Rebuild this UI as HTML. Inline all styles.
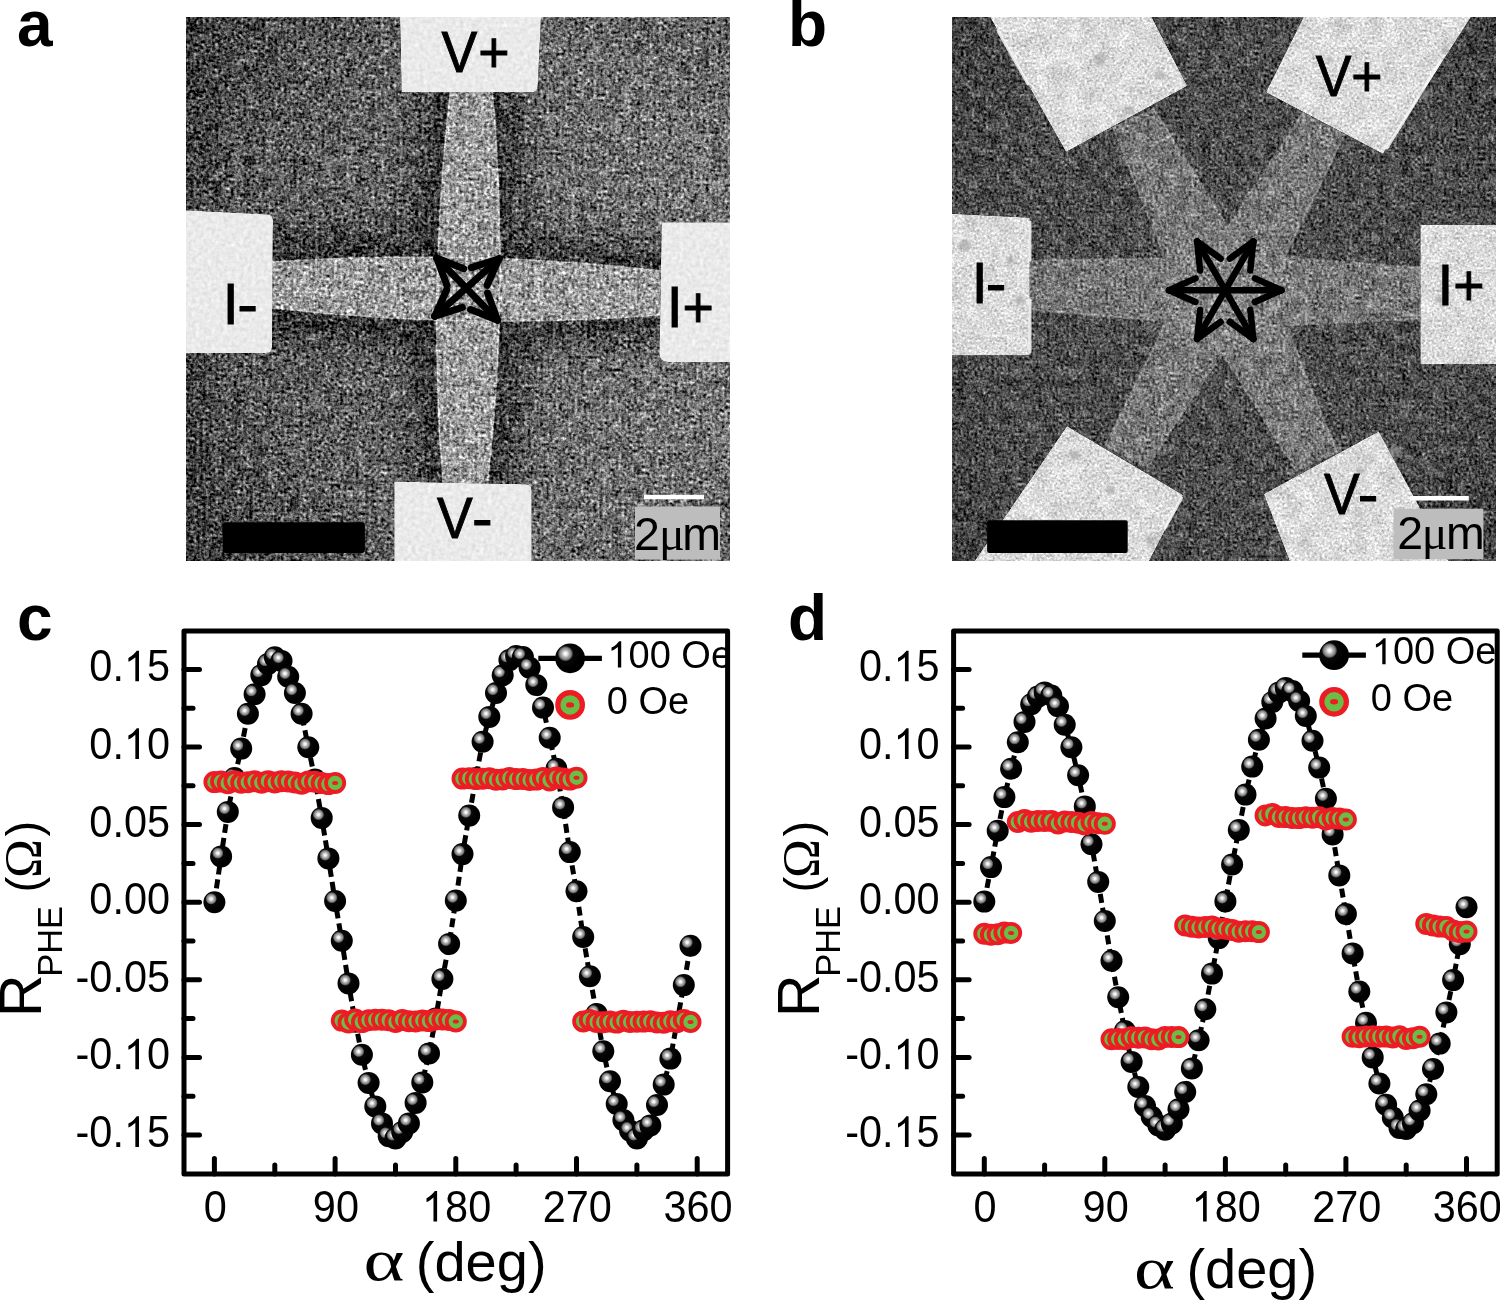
<!DOCTYPE html>
<html><head><meta charset="utf-8"><title>Figure</title><style>
html,body{margin:0;padding:0;background:#fff;}
body{width:1500px;height:1300px;overflow:hidden;position:relative;}
svg{position:absolute;left:0;top:0;will-change:transform;}
text{font-family:"Liberation Sans",sans-serif;fill:#000;}
.tl{font-size:42.5px;}
.lg{font-size:38px;}
.pl{font-size:64px;font-weight:bold;}
.sl{font-family:"Liberation Sans",sans-serif;stroke:#000;stroke-width:0.9px;}
.um{font-size:46.5px;}
.umu{font-family:"Liberation Serif",serif;font-size:48px;}
.yt{font-size:59px;}
.ys{font-size:34.5px;}
.yp{font-size:47.2px;}
.yo{font-family:"Liberation Serif",serif;font-size:52.4px;}
.xa{font-family:"Liberation Serif",serif;font-size:60px;}
.xt{font-size:56px;}
</style></head><body>
<svg width="1500" height="1300" viewBox="0 0 1500 1300">

<defs>
<radialGradient id="sph" cx="0.35" cy="0.35" r="0.5" fx="0.35" fy="0.35">
 <stop offset="0" stop-color="#ffffff"/>
 <stop offset="0.1" stop-color="#f2f2f2"/>
 <stop offset="0.18" stop-color="#cfcfcf"/>
 <stop offset="0.28" stop-color="#a4a4a4"/>
 <stop offset="0.38" stop-color="#858585"/>
 <stop offset="0.45" stop-color="#555"/>
 <stop offset="0.52" stop-color="#080808"/>
 <stop offset="1" stop-color="#000"/>
</radialGradient>
<radialGradient id="sphL" cx="0.345" cy="0.345" r="0.5" fx="0.345" fy="0.345">
 <stop offset="0" stop-color="#ffffff"/>
 <stop offset="0.1" stop-color="#f2f2f2"/>
 <stop offset="0.18" stop-color="#cfcfcf"/>
 <stop offset="0.28" stop-color="#a4a4a4"/>
 <stop offset="0.38" stop-color="#858585"/>
 <stop offset="0.45" stop-color="#555"/>
 <stop offset="0.52" stop-color="#080808"/>
 <stop offset="1" stop-color="#000"/>
</radialGradient>
<clipPath id="clipA"><rect x="186" y="17" width="544" height="544"/></clipPath>
<clipPath id="clipB"><rect x="952" y="17" width="544" height="544"/></clipPath>
<clipPath id="clipC" clipPathUnits="userSpaceOnUse"><rect x="0" y="0" width="726" height="1300"/></clipPath>
<clipPath id="clipD" clipPathUnits="userSpaceOnUse"><rect x="0" y="0" width="1495" height="1300"/></clipPath>
<radialGradient id="vigA" cx="0.55" cy="0.5" r="0.75">
 <stop offset="0" stop-color="#fff" stop-opacity="0.06"/>
 <stop offset="0.6" stop-color="#000" stop-opacity="0.0"/>
 <stop offset="1" stop-color="#000" stop-opacity="0.25"/>
</radialGradient>
<radialGradient id="vigB" cx="0.5" cy="0.5" r="0.75">
 <stop offset="0" stop-color="#fff" stop-opacity="0.04"/>
 <stop offset="0.6" stop-color="#000" stop-opacity="0.0"/>
 <stop offset="1" stop-color="#000" stop-opacity="0.2"/>
</radialGradient>
<filter id="grain" x="0" y="0" width="1" height="1" color-interpolation-filters="sRGB">
 <feTurbulence type="fractalNoise" baseFrequency="0.09" numOctaves="2" seed="11" result="m"/>
 <feColorMatrix in="m" type="matrix" values="0.33 0.33 0.33 0 0  0.33 0.33 0.33 0 0  0.33 0.33 0.33 0 0  0 0 0 0 1" result="mg"/>
 <feComposite in="SourceGraphic" in2="mg" operator="arithmetic" k1="0" k2="1" k3="0.7" k4="-0.35" result="s1"/>
 <feTurbulence type="fractalNoise" baseFrequency="0.32" numOctaves="2" seed="3" result="n"/>
 <feColorMatrix in="n" type="matrix" values="0.33 0.33 0.33 0 0  0.33 0.33 0.33 0 0  0.33 0.33 0.33 0 0  0 0 0 0 1" result="g"/>
 <feComposite in="s1" in2="g" operator="arithmetic" k1="0" k2="1" k3="2.1" k4="-1.05"/>
</filter>
<filter id="grainB" x="0" y="0" width="1" height="1" color-interpolation-filters="sRGB">
 <feTurbulence type="fractalNoise" baseFrequency="0.09" numOctaves="2" seed="17" result="m"/>
 <feColorMatrix in="m" type="matrix" values="0.33 0.33 0.33 0 0  0.33 0.33 0.33 0 0  0.33 0.33 0.33 0 0  0 0 0 0 1" result="mg"/>
 <feComposite in="SourceGraphic" in2="mg" operator="arithmetic" k1="0" k2="1" k3="0.6" k4="-0.3" result="s1"/>
 <feTurbulence type="fractalNoise" baseFrequency="0.36" numOctaves="2" seed="23" result="n"/>
 <feColorMatrix in="n" type="matrix" values="0.33 0.33 0.33 0 0  0.33 0.33 0.33 0 0  0.33 0.33 0.33 0 0  0 0 0 0 1" result="g"/>
 <feComposite in="s1" in2="g" operator="arithmetic" k1="0" k2="1" k3="1.45" k4="-0.725"/>
</filter>
<filter id="grainP" x="0" y="0" width="1" height="1" color-interpolation-filters="sRGB">
 <feTurbulence type="fractalNoise" baseFrequency="0.25" numOctaves="2" seed="5" result="n"/>
 <feColorMatrix in="n" type="matrix" values="0.33 0.33 0.33 0 0  0.33 0.33 0.33 0 0  0.33 0.33 0.33 0 0  0 0 0 0 1" result="g"/>
 <feComposite in="SourceGraphic" in2="g" operator="arithmetic" k1="0" k2="1" k3="0.28" k4="-0.14" result="c"/>
 <feComposite in="c" in2="SourceAlpha" operator="in"/>
</filter>
<filter id="grainP2" x="0" y="0" width="1" height="1" color-interpolation-filters="sRGB">
 <feTurbulence type="fractalNoise" baseFrequency="0.06" numOctaves="4" seed="9" result="n"/>
 <feColorMatrix in="n" type="matrix" values="0.33 0.33 0.33 0 0  0.33 0.33 0.33 0 0  0.33 0.33 0.33 0 0  0 0 0 0 1" result="g"/>
 <feComposite in="SourceGraphic" in2="g" operator="arithmetic" k1="0" k2="1" k3="0.3" k4="-0.15" result="c0"/>
 <feTurbulence type="fractalNoise" baseFrequency="0.4" numOctaves="2" seed="4" result="n2"/>
 <feColorMatrix in="n2" type="matrix" values="0.33 0.33 0.33 0 0  0.33 0.33 0.33 0 0  0.33 0.33 0.33 0 0  0 0 0 0 1" result="g2"/>
 <feComposite in="c0" in2="g2" operator="arithmetic" k1="0" k2="1" k3="0.9" k4="-0.45" result="c"/>
 <feComposite in="c" in2="SourceAlpha" operator="in"/>
</filter>
<filter id="blur6" x="-0.5" y="-0.5" width="2" height="2"><feGaussianBlur stdDeviation="6"/></filter>
<filter id="blur2" x="-0.5" y="-0.5" width="2" height="2"><feGaussianBlur stdDeviation="1.5"/></filter>
<filter id="blur18" x="-0.5" y="-0.5" width="2" height="2"><feGaussianBlur stdDeviation="16"/></filter>
<linearGradient id="gradA" x1="0" y1="0" x2="1" y2="0">
 <stop offset="0" stop-color="#4a4a4a"/>
 <stop offset="0.08" stop-color="#5b5b5b"/>
 <stop offset="0.45" stop-color="#696969"/>
 <stop offset="1" stop-color="#7a7a7a"/>
</linearGradient>
</defs>

<g clip-path="url(#clipA)"><g filter="url(#grain)">
<rect x="186" y="17" width="544" height="544" fill="url(#gradA)"/>
<rect x="186" y="17" width="544" height="544" fill="url(#vigA)"/>
<g filter="url(#blur18)" opacity="0.5" fill="none" stroke="#000" stroke-width="46">
<path d="M270,262 Q469.5,248.5 663,271 L663,315 Q466.5,330.1 270,308 Z"/>
<path d="M450.5,90 L492.5,90 Q510,291 487.5,484 L443,484 Q427.2,291 450.5,90 Z"/>
</g>
<path d="M270,262 Q469.5,248.5 663,271 L663,315 Q466.5,330.1 270,308 Z" fill="#9e9e9e"/>
<path d="M450.5,90 L492.5,90 Q510,291 487.5,484 L443,484 Q427.2,291 450.5,90 Z" fill="#9e9e9e"/>
<g fill="none" stroke="#e0e0e0" stroke-width="1.6" opacity="0.55">
<path d="M270,262 Q469.5,248.5 663,271"/><path d="M663,315 Q466.5,330.1 270,308"/>
<path d="M492.5,90 Q510,291 487.5,484"/><path d="M443,484 Q427.2,291 450.5,90"/>
</g>
</g><g filter="url(#grainP)" fill="#eaeaea">
<path d="M399.8,10 L541.4,10 L537.8,86 Q537.5,92.3 531,92.3 L401.6,92.3 Z"/>
<path d="M394.2,481.5 L525.7,484.2 Q531.7,484.4 531.7,490.4 L531.7,570 L394.2,570 Z"/>
<path d="M180,209.9 L267,214.3 Q273,214.6 273,220.6 L272,347 Q272,353 266,353 L180,353 Z"/>
<path d="M661.6,222.2 L740,222.2 L740,362 L668,362 Q659.6,362 659.6,354 Z"/>
</g></g>
<g clip-path="url(#clipB)"><g filter="url(#grainB)">
<rect x="952" y="17" width="544" height="544" fill="#505050"/>
<rect x="952" y="17" width="544" height="544" fill="url(#vigB)"/>
<polygon points="1112.6,127.0 1153.6,108.6 1228.0,227.0 1303.2,111.9 1345.1,134.1 1285.0,256.0 1290.0,258.0 1424.0,267.7 1424.0,318.3 1286.8,325.6 1285.4,323.1 1337.4,453.0 1296.4,471.4 1222.0,353.0 1146.8,468.1 1104.9,445.9 1165.0,324.0 1159.0,320.7 1026.0,309.0 1026.0,261.0 1158.7,258.3 1164.6,256.9" fill="#7a7a7a"/>
<polygon points="1295.0,290.0 1260.0,343.7 1190.0,343.7 1155.0,290.0 1190.0,236.3 1260.0,236.3" fill="#888888" filter="url(#blur6)"/>
<g stroke="#a0a0a0" stroke-width="2" opacity="0.5" fill="none">
<line x1="1112.6" y1="127.0" x2="1164.6" y2="256.9"/>
<line x1="1153.6" y1="108.6" x2="1228.0" y2="227.0"/>
<line x1="1228.0" y1="227.0" x2="1303.2" y2="111.9"/>
<line x1="1345.1" y1="134.1" x2="1285.0" y2="256.0"/>
<line x1="1337.4" y1="453.0" x2="1285.4" y2="323.1"/>
<line x1="1296.4" y1="471.4" x2="1222.0" y2="353.0"/>
<line x1="1222.0" y1="353.0" x2="1146.8" y2="468.1"/>
<line x1="1104.9" y1="445.9" x2="1165.0" y2="324.0"/>
<line x1="1026.0" y1="261.0" x2="1158.7" y2="258.3"/>
<line x1="1290.0" y1="258.0" x2="1424.0" y2="267.7"/>
<line x1="1026.0" y1="309.0" x2="1159.0" y2="320.7"/>
<line x1="1286.8" y1="325.6" x2="1424.0" y2="318.3"/>
</g>
</g><g filter="url(#grainP2)" fill="#dcdcdc">
<polygon points="952.0,213.7 1029.8,217.6 1029.8,355.5 952.0,355.5"/>
<polygon points="1420.3,224.8 1500.0,224.8 1500.0,364.0 1420.3,364.0"/>
<polygon points="1066.0,152.0 1187.3,86.0 1143.0,0.0 980.4,0.0"/>
<polygon points="1265.8,92.3 1383.0,154.0 1482.0,0.0 1312.0,0.0"/>
<polygon points="1067.0,426.0 1183.2,495.0 1142.0,575.0 965.0,575.0"/>
<polygon points="1378.8,431.3 1263.7,494.0 1295.0,575.0 1456.0,575.0"/>
</g>
<g stroke="#f8f8f8" stroke-width="3" stroke-linecap="round" opacity="0.85" fill="none"><line x1="998" y1="31" x2="1028" y2="84"/><line x1="1440" y1="62" x2="1387" y2="148"/><line x1="1181.5" y1="498" x2="1165" y2="528"/><line x1="1030" y1="222" x2="1030" y2="260"/><line x1="1030" y1="300" x2="1030" y2="352"/></g>
<g fill="#9a9a9a" opacity="0.55" filter="url(#blur2)"><circle cx="1100" cy="60" r="6"/><circle cx="1160" cy="75" r="5"/><circle cx="1130" cy="110" r="4"/><circle cx="1425" cy="95" r="5"/><circle cx="1445" cy="50" r="4"/><circle cx="1330" cy="60" r="3"/><circle cx="965" cy="245" r="6"/><circle cx="1020" cy="300" r="5"/><circle cx="1010" cy="260" r="4"/><circle cx="1075" cy="455" r="5"/><circle cx="1110" cy="490" r="5"/><circle cx="1150" cy="540" r="4"/><circle cx="1395" cy="452" r="6"/><circle cx="1360" cy="470" r="4"/><circle cx="1440" cy="300" r="4"/></g>
</g>
<g stroke="#000" stroke-width="7" stroke-linecap="round" fill="none">
<line x1="436.8" y1="258.0" x2="497.6" y2="320.2"/><line x1="436.8" y1="258.0" x2="463.8" y2="268.7"/><line x1="436.8" y1="258.0" x2="446.9" y2="285.2"/><line x1="497.6" y1="320.2" x2="470.6" y2="309.5"/><line x1="497.6" y1="320.2" x2="487.5" y2="293.0"/>
<line x1="499.0" y1="258.8" x2="434.8" y2="316.2"/><line x1="499.0" y1="258.8" x2="487.1" y2="285.3"/><line x1="499.0" y1="258.8" x2="471.4" y2="267.7"/><line x1="434.8" y1="316.2" x2="446.7" y2="289.7"/><line x1="434.8" y1="316.2" x2="462.4" y2="307.3"/>
</g>
<g stroke="#000" stroke-width="6.5" stroke-linecap="round" fill="none">
<line x1="1169.0" y1="290.2" x2="1281.4" y2="290.2"/><line x1="1169.0" y1="290.2" x2="1195.5" y2="278.4"/><line x1="1169.0" y1="290.2" x2="1195.5" y2="302.0"/><line x1="1281.4" y1="290.2" x2="1254.9" y2="302.0"/><line x1="1281.4" y1="290.2" x2="1254.9" y2="278.4"/>
<line x1="1197.1" y1="241.5" x2="1253.3" y2="338.9"/><line x1="1197.1" y1="241.5" x2="1220.6" y2="258.6"/><line x1="1197.1" y1="241.5" x2="1200.1" y2="270.4"/><line x1="1253.3" y1="338.9" x2="1229.8" y2="321.8"/><line x1="1253.3" y1="338.9" x2="1250.3" y2="310.0"/>
<line x1="1253.3" y1="241.5" x2="1197.1" y2="338.9"/><line x1="1253.3" y1="241.5" x2="1250.3" y2="270.4"/><line x1="1253.3" y1="241.5" x2="1229.8" y2="258.6"/><line x1="1197.1" y1="338.9" x2="1200.1" y2="310.0"/><line x1="1197.1" y1="338.9" x2="1220.6" y2="321.8"/>
</g>
<rect x="222.6" y="522.3" width="142.3" height="30.7" rx="3" fill="#000"/>
<rect x="987.1" y="520.2" width="140.6" height="32.8" rx="2" fill="#000"/>
<rect x="644" y="494.8" width="60" height="4.5" fill="#fff"/>
<rect x="635" y="506.5" width="85" height="53" fill="#bdbdbd"/>
<rect x="1410.2" y="496" width="58.6" height="4.5" fill="#fff"/>
<rect x="1393.5" y="508.7" width="89.9" height="50.5" fill="#bdbdbd"/>
<text transform="translate(441.5,72.0) scale(0.94,1)" class="sl" font-size="57">V</text>
<text transform="translate(478.2,72.0) scale(0.94,1)" class="sl" font-size="57">+</text>
<text transform="translate(437.0,538.3) scale(0.94,1)" class="sl" font-size="57">V</text>
<text transform="translate(471.9,538.3) scale(1.09,1)" class="sl" font-size="57">-</text>
<text transform="translate(222.7,323.7) scale(1.0,1)" class="sl" font-size="57">I</text>
<text transform="translate(237.2,323.7) scale(1.09,1)" class="sl" font-size="57">-</text>
<text transform="translate(666.7,327.4) scale(1.0,1)" class="sl" font-size="57">I</text>
<text transform="translate(682.5,327.4) scale(0.94,1)" class="sl" font-size="57">+</text>
<text transform="translate(1315.7,95.5) scale(0.94,1)" class="sl" font-size="57">V</text>
<text transform="translate(1351.3,95.5) scale(0.94,1)" class="sl" font-size="57">+</text>
<text transform="translate(1324.1,513.9) scale(0.94,1)" class="sl" font-size="57">V</text>
<text transform="translate(1357.7,513.9) scale(1.09,1)" class="sl" font-size="57">-</text>
<text transform="translate(971.8,302.6) scale(1.0,1)" class="sl" font-size="57">I</text>
<text transform="translate(985.8,302.6) scale(1.09,1)" class="sl" font-size="57">-</text>
<text transform="translate(1437.6,305.2) scale(1.0,1)" class="sl" font-size="57">I</text>
<text transform="translate(1453.3,305.2) scale(0.94,1)" class="sl" font-size="57">+</text>
<text x="634" y="549.7" class="um">2</text>
<text x="659" y="549.7" class="umu">&#956;</text>
<text x="682.3" y="549.7" class="um">m</text>
<text x="1397.3" y="548.6" class="um">2</text>
<text x="1421.7" y="548.6" class="umu">&#956;</text>
<text x="1446" y="548.6" class="um">m</text>
<text x="17" y="46.3" class="pl">a</text>
<text x="788" y="46.3" class="pl">b</text>
<text x="17" y="640" class="pl">c</text>
<text x="788" y="640" class="pl">d</text>
<polyline points="214.4,902.2 221.1,856.4 227.8,811.9 234.5,778.0 241.2,748.6 247.9,713.8 254.6,694.2 261.3,675.1 268.0,664.0 274.8,657.3 281.5,660.9 288.2,676.8 294.9,693.0 301.6,713.8 308.3,747.3 315.0,779.6 321.7,817.9 328.4,858.4 335.1,901.0 341.8,940.7 348.5,983.4 355.2,1021.7 361.9,1054.8 368.6,1082.9 375.3,1106.4 382.0,1123.4 388.7,1136.2 395.5,1138.4 402.2,1131.9 408.9,1123.4 415.6,1102.9 422.3,1082.4 429.0,1053.4 435.7,1018.6 442.4,979.0 449.1,943.9 455.8,900.6 462.5,854.1 469.2,815.6 475.9,778.0 482.6,741.7 489.3,716.9 496.0,693.0 502.7,675.3 509.4,660.1 516.1,656.1 522.9,657.0 529.6,667.8 536.3,684.9 543.0,707.6 549.7,737.7 556.4,768.7 563.1,807.4 569.8,852.1 576.5,891.3 583.2,937.0 589.9,976.2 596.6,1013.9 603.3,1051.2 610.0,1081.3 616.7,1104.0 623.4,1120.1 630.1,1130.8 636.9,1138.4 643.6,1130.3 650.3,1125.4 657.0,1105.0 663.7,1084.6 670.4,1058.6 677.1,1021.7 683.8,985.1 690.5,945.7" fill="none" stroke="#000" stroke-width="5" stroke-dasharray="9 5"/>
<circle cx="214.4" cy="902.2" r="11" fill="url(#sph)"/>
<circle cx="221.1" cy="856.4" r="11" fill="url(#sph)"/>
<circle cx="227.8" cy="811.9" r="11" fill="url(#sph)"/>
<circle cx="234.5" cy="778.0" r="11" fill="url(#sph)"/>
<circle cx="241.2" cy="748.6" r="11" fill="url(#sph)"/>
<circle cx="247.9" cy="713.8" r="11" fill="url(#sph)"/>
<circle cx="254.6" cy="694.2" r="11" fill="url(#sph)"/>
<circle cx="261.3" cy="675.1" r="11" fill="url(#sph)"/>
<circle cx="268.0" cy="664.0" r="11" fill="url(#sph)"/>
<circle cx="274.8" cy="657.3" r="11" fill="url(#sph)"/>
<circle cx="281.5" cy="660.9" r="11" fill="url(#sph)"/>
<circle cx="288.2" cy="676.8" r="11" fill="url(#sph)"/>
<circle cx="294.9" cy="693.0" r="11" fill="url(#sph)"/>
<circle cx="301.6" cy="713.8" r="11" fill="url(#sph)"/>
<circle cx="308.3" cy="747.3" r="11" fill="url(#sph)"/>
<circle cx="315.0" cy="779.6" r="11" fill="url(#sph)"/>
<circle cx="321.7" cy="817.9" r="11" fill="url(#sph)"/>
<circle cx="328.4" cy="858.4" r="11" fill="url(#sph)"/>
<circle cx="335.1" cy="901.0" r="11" fill="url(#sph)"/>
<circle cx="341.8" cy="940.7" r="11" fill="url(#sph)"/>
<circle cx="348.5" cy="983.4" r="11" fill="url(#sph)"/>
<circle cx="355.2" cy="1021.7" r="11" fill="url(#sph)"/>
<circle cx="361.9" cy="1054.8" r="11" fill="url(#sph)"/>
<circle cx="368.6" cy="1082.9" r="11" fill="url(#sph)"/>
<circle cx="375.3" cy="1106.4" r="11" fill="url(#sph)"/>
<circle cx="382.0" cy="1123.4" r="11" fill="url(#sph)"/>
<circle cx="388.7" cy="1136.2" r="11" fill="url(#sph)"/>
<circle cx="395.5" cy="1138.4" r="11" fill="url(#sph)"/>
<circle cx="402.2" cy="1131.9" r="11" fill="url(#sph)"/>
<circle cx="408.9" cy="1123.4" r="11" fill="url(#sph)"/>
<circle cx="415.6" cy="1102.9" r="11" fill="url(#sph)"/>
<circle cx="422.3" cy="1082.4" r="11" fill="url(#sph)"/>
<circle cx="429.0" cy="1053.4" r="11" fill="url(#sph)"/>
<circle cx="435.7" cy="1018.6" r="11" fill="url(#sph)"/>
<circle cx="442.4" cy="979.0" r="11" fill="url(#sph)"/>
<circle cx="449.1" cy="943.9" r="11" fill="url(#sph)"/>
<circle cx="455.8" cy="900.6" r="11" fill="url(#sph)"/>
<circle cx="462.5" cy="854.1" r="11" fill="url(#sph)"/>
<circle cx="469.2" cy="815.6" r="11" fill="url(#sph)"/>
<circle cx="475.9" cy="778.0" r="11" fill="url(#sph)"/>
<circle cx="482.6" cy="741.7" r="11" fill="url(#sph)"/>
<circle cx="489.3" cy="716.9" r="11" fill="url(#sph)"/>
<circle cx="496.0" cy="693.0" r="11" fill="url(#sph)"/>
<circle cx="502.7" cy="675.3" r="11" fill="url(#sph)"/>
<circle cx="509.4" cy="660.1" r="11" fill="url(#sph)"/>
<circle cx="516.1" cy="656.1" r="11" fill="url(#sph)"/>
<circle cx="522.9" cy="657.0" r="11" fill="url(#sph)"/>
<circle cx="529.6" cy="667.8" r="11" fill="url(#sph)"/>
<circle cx="536.3" cy="684.9" r="11" fill="url(#sph)"/>
<circle cx="543.0" cy="707.6" r="11" fill="url(#sph)"/>
<circle cx="549.7" cy="737.7" r="11" fill="url(#sph)"/>
<circle cx="556.4" cy="768.7" r="11" fill="url(#sph)"/>
<circle cx="563.1" cy="807.4" r="11" fill="url(#sph)"/>
<circle cx="569.8" cy="852.1" r="11" fill="url(#sph)"/>
<circle cx="576.5" cy="891.3" r="11" fill="url(#sph)"/>
<circle cx="583.2" cy="937.0" r="11" fill="url(#sph)"/>
<circle cx="589.9" cy="976.2" r="11" fill="url(#sph)"/>
<circle cx="596.6" cy="1013.9" r="11" fill="url(#sph)"/>
<circle cx="603.3" cy="1051.2" r="11" fill="url(#sph)"/>
<circle cx="610.0" cy="1081.3" r="11" fill="url(#sph)"/>
<circle cx="616.7" cy="1104.0" r="11" fill="url(#sph)"/>
<circle cx="623.4" cy="1120.1" r="11" fill="url(#sph)"/>
<circle cx="630.1" cy="1130.8" r="11" fill="url(#sph)"/>
<circle cx="636.9" cy="1138.4" r="11" fill="url(#sph)"/>
<circle cx="643.6" cy="1130.3" r="11" fill="url(#sph)"/>
<circle cx="650.3" cy="1125.4" r="11" fill="url(#sph)"/>
<circle cx="657.0" cy="1105.0" r="11" fill="url(#sph)"/>
<circle cx="663.7" cy="1084.6" r="11" fill="url(#sph)"/>
<circle cx="670.4" cy="1058.6" r="11" fill="url(#sph)"/>
<circle cx="677.1" cy="1021.7" r="11" fill="url(#sph)"/>
<circle cx="683.8" cy="985.1" r="11" fill="url(#sph)"/>
<circle cx="690.5" cy="945.7" r="11" fill="url(#sph)"/>
<circle cx="214.4" cy="782.1" r="9.10" fill="#6abd45" stroke="#ed1c24" stroke-width="3.80"/><ellipse cx="214.4" cy="782.1" rx="3.00" ry="2.00" fill="#ed1c24"/>
<circle cx="221.1" cy="781.6" r="9.10" fill="#6abd45" stroke="#ed1c24" stroke-width="3.80"/><ellipse cx="221.1" cy="781.6" rx="3.00" ry="2.00" fill="#ed1c24"/>
<circle cx="227.8" cy="783.2" r="9.10" fill="#6abd45" stroke="#ed1c24" stroke-width="3.80"/><ellipse cx="227.8" cy="783.2" rx="3.00" ry="2.00" fill="#ed1c24"/>
<circle cx="234.5" cy="781.3" r="9.10" fill="#6abd45" stroke="#ed1c24" stroke-width="3.80"/><ellipse cx="234.5" cy="781.3" rx="3.00" ry="2.00" fill="#ed1c24"/>
<circle cx="241.2" cy="782.8" r="9.10" fill="#6abd45" stroke="#ed1c24" stroke-width="3.80"/><ellipse cx="241.2" cy="782.8" rx="3.00" ry="2.00" fill="#ed1c24"/>
<circle cx="247.9" cy="782.3" r="9.10" fill="#6abd45" stroke="#ed1c24" stroke-width="3.80"/><ellipse cx="247.9" cy="782.3" rx="3.00" ry="2.00" fill="#ed1c24"/>
<circle cx="254.6" cy="781.3" r="9.10" fill="#6abd45" stroke="#ed1c24" stroke-width="3.80"/><ellipse cx="254.6" cy="781.3" rx="3.00" ry="2.00" fill="#ed1c24"/>
<circle cx="261.3" cy="782.7" r="9.10" fill="#6abd45" stroke="#ed1c24" stroke-width="3.80"/><ellipse cx="261.3" cy="782.7" rx="3.00" ry="2.00" fill="#ed1c24"/>
<circle cx="268.0" cy="781.2" r="9.10" fill="#6abd45" stroke="#ed1c24" stroke-width="3.80"/><ellipse cx="268.0" cy="781.2" rx="3.00" ry="2.00" fill="#ed1c24"/>
<circle cx="274.8" cy="782.5" r="9.10" fill="#6abd45" stroke="#ed1c24" stroke-width="3.80"/><ellipse cx="274.8" cy="782.5" rx="3.00" ry="2.00" fill="#ed1c24"/>
<circle cx="281.5" cy="781.3" r="9.10" fill="#6abd45" stroke="#ed1c24" stroke-width="3.80"/><ellipse cx="281.5" cy="781.3" rx="3.00" ry="2.00" fill="#ed1c24"/>
<circle cx="288.2" cy="781.4" r="9.10" fill="#6abd45" stroke="#ed1c24" stroke-width="3.80"/><ellipse cx="288.2" cy="781.4" rx="3.00" ry="2.00" fill="#ed1c24"/>
<circle cx="294.9" cy="782.5" r="9.10" fill="#6abd45" stroke="#ed1c24" stroke-width="3.80"/><ellipse cx="294.9" cy="782.5" rx="3.00" ry="2.00" fill="#ed1c24"/>
<circle cx="301.6" cy="783.7" r="9.10" fill="#6abd45" stroke="#ed1c24" stroke-width="3.80"/><ellipse cx="301.6" cy="783.7" rx="3.00" ry="2.00" fill="#ed1c24"/>
<circle cx="308.3" cy="781.5" r="9.10" fill="#6abd45" stroke="#ed1c24" stroke-width="3.80"/><ellipse cx="308.3" cy="781.5" rx="3.00" ry="2.00" fill="#ed1c24"/>
<circle cx="315.0" cy="781.8" r="9.10" fill="#6abd45" stroke="#ed1c24" stroke-width="3.80"/><ellipse cx="315.0" cy="781.8" rx="3.00" ry="2.00" fill="#ed1c24"/>
<circle cx="321.7" cy="783.1" r="9.10" fill="#6abd45" stroke="#ed1c24" stroke-width="3.80"/><ellipse cx="321.7" cy="783.1" rx="3.00" ry="2.00" fill="#ed1c24"/>
<circle cx="328.4" cy="784.1" r="9.10" fill="#6abd45" stroke="#ed1c24" stroke-width="3.80"/><ellipse cx="328.4" cy="784.1" rx="3.00" ry="2.00" fill="#ed1c24"/>
<circle cx="335.1" cy="782.9" r="9.10" fill="#6abd45" stroke="#ed1c24" stroke-width="3.80"/><ellipse cx="335.1" cy="782.9" rx="3.00" ry="2.00" fill="#ed1c24"/>
<circle cx="341.8" cy="1020.6" r="9.10" fill="#6abd45" stroke="#ed1c24" stroke-width="3.80"/><ellipse cx="341.8" cy="1020.6" rx="3.00" ry="2.00" fill="#ed1c24"/>
<circle cx="348.5" cy="1022.5" r="9.10" fill="#6abd45" stroke="#ed1c24" stroke-width="3.80"/><ellipse cx="348.5" cy="1022.5" rx="3.00" ry="2.00" fill="#ed1c24"/>
<circle cx="355.2" cy="1019.5" r="9.10" fill="#6abd45" stroke="#ed1c24" stroke-width="3.80"/><ellipse cx="355.2" cy="1019.5" rx="3.00" ry="2.00" fill="#ed1c24"/>
<circle cx="361.9" cy="1022.1" r="9.10" fill="#6abd45" stroke="#ed1c24" stroke-width="3.80"/><ellipse cx="361.9" cy="1022.1" rx="3.00" ry="2.00" fill="#ed1c24"/>
<circle cx="368.6" cy="1020.3" r="9.10" fill="#6abd45" stroke="#ed1c24" stroke-width="3.80"/><ellipse cx="368.6" cy="1020.3" rx="3.00" ry="2.00" fill="#ed1c24"/>
<circle cx="375.3" cy="1019.8" r="9.10" fill="#6abd45" stroke="#ed1c24" stroke-width="3.80"/><ellipse cx="375.3" cy="1019.8" rx="3.00" ry="2.00" fill="#ed1c24"/>
<circle cx="382.0" cy="1019.7" r="9.10" fill="#6abd45" stroke="#ed1c24" stroke-width="3.80"/><ellipse cx="382.0" cy="1019.7" rx="3.00" ry="2.00" fill="#ed1c24"/>
<circle cx="388.7" cy="1020.3" r="9.10" fill="#6abd45" stroke="#ed1c24" stroke-width="3.80"/><ellipse cx="388.7" cy="1020.3" rx="3.00" ry="2.00" fill="#ed1c24"/>
<circle cx="395.5" cy="1021.9" r="9.10" fill="#6abd45" stroke="#ed1c24" stroke-width="3.80"/><ellipse cx="395.5" cy="1021.9" rx="3.00" ry="2.00" fill="#ed1c24"/>
<circle cx="402.2" cy="1019.9" r="9.10" fill="#6abd45" stroke="#ed1c24" stroke-width="3.80"/><ellipse cx="402.2" cy="1019.9" rx="3.00" ry="2.00" fill="#ed1c24"/>
<circle cx="408.9" cy="1021.2" r="9.10" fill="#6abd45" stroke="#ed1c24" stroke-width="3.80"/><ellipse cx="408.9" cy="1021.2" rx="3.00" ry="2.00" fill="#ed1c24"/>
<circle cx="415.6" cy="1021.4" r="9.10" fill="#6abd45" stroke="#ed1c24" stroke-width="3.80"/><ellipse cx="415.6" cy="1021.4" rx="3.00" ry="2.00" fill="#ed1c24"/>
<circle cx="422.3" cy="1020.5" r="9.10" fill="#6abd45" stroke="#ed1c24" stroke-width="3.80"/><ellipse cx="422.3" cy="1020.5" rx="3.00" ry="2.00" fill="#ed1c24"/>
<circle cx="429.0" cy="1021.1" r="9.10" fill="#6abd45" stroke="#ed1c24" stroke-width="3.80"/><ellipse cx="429.0" cy="1021.1" rx="3.00" ry="2.00" fill="#ed1c24"/>
<circle cx="435.7" cy="1019.5" r="9.10" fill="#6abd45" stroke="#ed1c24" stroke-width="3.80"/><ellipse cx="435.7" cy="1019.5" rx="3.00" ry="2.00" fill="#ed1c24"/>
<circle cx="442.4" cy="1019.5" r="9.10" fill="#6abd45" stroke="#ed1c24" stroke-width="3.80"/><ellipse cx="442.4" cy="1019.5" rx="3.00" ry="2.00" fill="#ed1c24"/>
<circle cx="449.1" cy="1020.0" r="9.10" fill="#6abd45" stroke="#ed1c24" stroke-width="3.80"/><ellipse cx="449.1" cy="1020.0" rx="3.00" ry="2.00" fill="#ed1c24"/>
<circle cx="455.8" cy="1021.5" r="9.10" fill="#6abd45" stroke="#ed1c24" stroke-width="3.80"/><ellipse cx="455.8" cy="1021.5" rx="3.00" ry="2.00" fill="#ed1c24"/>
<circle cx="462.5" cy="778.6" r="9.10" fill="#6abd45" stroke="#ed1c24" stroke-width="3.80"/><ellipse cx="462.5" cy="778.6" rx="3.00" ry="2.00" fill="#ed1c24"/>
<circle cx="469.2" cy="778.2" r="9.10" fill="#6abd45" stroke="#ed1c24" stroke-width="3.80"/><ellipse cx="469.2" cy="778.2" rx="3.00" ry="2.00" fill="#ed1c24"/>
<circle cx="475.9" cy="779.1" r="9.10" fill="#6abd45" stroke="#ed1c24" stroke-width="3.80"/><ellipse cx="475.9" cy="779.1" rx="3.00" ry="2.00" fill="#ed1c24"/>
<circle cx="482.6" cy="778.7" r="9.10" fill="#6abd45" stroke="#ed1c24" stroke-width="3.80"/><ellipse cx="482.6" cy="778.7" rx="3.00" ry="2.00" fill="#ed1c24"/>
<circle cx="489.3" cy="778.2" r="9.10" fill="#6abd45" stroke="#ed1c24" stroke-width="3.80"/><ellipse cx="489.3" cy="778.2" rx="3.00" ry="2.00" fill="#ed1c24"/>
<circle cx="496.0" cy="779.8" r="9.10" fill="#6abd45" stroke="#ed1c24" stroke-width="3.80"/><ellipse cx="496.0" cy="779.8" rx="3.00" ry="2.00" fill="#ed1c24"/>
<circle cx="502.7" cy="779.5" r="9.10" fill="#6abd45" stroke="#ed1c24" stroke-width="3.80"/><ellipse cx="502.7" cy="779.5" rx="3.00" ry="2.00" fill="#ed1c24"/>
<circle cx="509.4" cy="778.0" r="9.10" fill="#6abd45" stroke="#ed1c24" stroke-width="3.80"/><ellipse cx="509.4" cy="778.0" rx="3.00" ry="2.00" fill="#ed1c24"/>
<circle cx="516.1" cy="779.1" r="9.10" fill="#6abd45" stroke="#ed1c24" stroke-width="3.80"/><ellipse cx="516.1" cy="779.1" rx="3.00" ry="2.00" fill="#ed1c24"/>
<circle cx="522.9" cy="778.9" r="9.10" fill="#6abd45" stroke="#ed1c24" stroke-width="3.80"/><ellipse cx="522.9" cy="778.9" rx="3.00" ry="2.00" fill="#ed1c24"/>
<circle cx="529.6" cy="780.0" r="9.10" fill="#6abd45" stroke="#ed1c24" stroke-width="3.80"/><ellipse cx="529.6" cy="780.0" rx="3.00" ry="2.00" fill="#ed1c24"/>
<circle cx="536.3" cy="779.6" r="9.10" fill="#6abd45" stroke="#ed1c24" stroke-width="3.80"/><ellipse cx="536.3" cy="779.6" rx="3.00" ry="2.00" fill="#ed1c24"/>
<circle cx="543.0" cy="778.1" r="9.10" fill="#6abd45" stroke="#ed1c24" stroke-width="3.80"/><ellipse cx="543.0" cy="778.1" rx="3.00" ry="2.00" fill="#ed1c24"/>
<circle cx="549.7" cy="780.4" r="9.10" fill="#6abd45" stroke="#ed1c24" stroke-width="3.80"/><ellipse cx="549.7" cy="780.4" rx="3.00" ry="2.00" fill="#ed1c24"/>
<circle cx="556.4" cy="777.6" r="9.10" fill="#6abd45" stroke="#ed1c24" stroke-width="3.80"/><ellipse cx="556.4" cy="777.6" rx="3.00" ry="2.00" fill="#ed1c24"/>
<circle cx="563.1" cy="778.6" r="9.10" fill="#6abd45" stroke="#ed1c24" stroke-width="3.80"/><ellipse cx="563.1" cy="778.6" rx="3.00" ry="2.00" fill="#ed1c24"/>
<circle cx="569.8" cy="779.6" r="9.10" fill="#6abd45" stroke="#ed1c24" stroke-width="3.80"/><ellipse cx="569.8" cy="779.6" rx="3.00" ry="2.00" fill="#ed1c24"/>
<circle cx="576.5" cy="777.7" r="9.10" fill="#6abd45" stroke="#ed1c24" stroke-width="3.80"/><ellipse cx="576.5" cy="777.7" rx="3.00" ry="2.00" fill="#ed1c24"/>
<circle cx="583.2" cy="1021.4" r="9.10" fill="#6abd45" stroke="#ed1c24" stroke-width="3.80"/><ellipse cx="583.2" cy="1021.4" rx="3.00" ry="2.00" fill="#ed1c24"/>
<circle cx="589.9" cy="1019.9" r="9.10" fill="#6abd45" stroke="#ed1c24" stroke-width="3.80"/><ellipse cx="589.9" cy="1019.9" rx="3.00" ry="2.00" fill="#ed1c24"/>
<circle cx="596.6" cy="1021.9" r="9.10" fill="#6abd45" stroke="#ed1c24" stroke-width="3.80"/><ellipse cx="596.6" cy="1021.9" rx="3.00" ry="2.00" fill="#ed1c24"/>
<circle cx="603.3" cy="1022.2" r="9.10" fill="#6abd45" stroke="#ed1c24" stroke-width="3.80"/><ellipse cx="603.3" cy="1022.2" rx="3.00" ry="2.00" fill="#ed1c24"/>
<circle cx="610.0" cy="1021.6" r="9.10" fill="#6abd45" stroke="#ed1c24" stroke-width="3.80"/><ellipse cx="610.0" cy="1021.6" rx="3.00" ry="2.00" fill="#ed1c24"/>
<circle cx="616.7" cy="1022.6" r="9.10" fill="#6abd45" stroke="#ed1c24" stroke-width="3.80"/><ellipse cx="616.7" cy="1022.6" rx="3.00" ry="2.00" fill="#ed1c24"/>
<circle cx="623.4" cy="1020.8" r="9.10" fill="#6abd45" stroke="#ed1c24" stroke-width="3.80"/><ellipse cx="623.4" cy="1020.8" rx="3.00" ry="2.00" fill="#ed1c24"/>
<circle cx="630.1" cy="1022.0" r="9.10" fill="#6abd45" stroke="#ed1c24" stroke-width="3.80"/><ellipse cx="630.1" cy="1022.0" rx="3.00" ry="2.00" fill="#ed1c24"/>
<circle cx="636.9" cy="1021.7" r="9.10" fill="#6abd45" stroke="#ed1c24" stroke-width="3.80"/><ellipse cx="636.9" cy="1021.7" rx="3.00" ry="2.00" fill="#ed1c24"/>
<circle cx="643.6" cy="1021.6" r="9.10" fill="#6abd45" stroke="#ed1c24" stroke-width="3.80"/><ellipse cx="643.6" cy="1021.6" rx="3.00" ry="2.00" fill="#ed1c24"/>
<circle cx="650.3" cy="1021.3" r="9.10" fill="#6abd45" stroke="#ed1c24" stroke-width="3.80"/><ellipse cx="650.3" cy="1021.3" rx="3.00" ry="2.00" fill="#ed1c24"/>
<circle cx="657.0" cy="1022.5" r="9.10" fill="#6abd45" stroke="#ed1c24" stroke-width="3.80"/><ellipse cx="657.0" cy="1022.5" rx="3.00" ry="2.00" fill="#ed1c24"/>
<circle cx="663.7" cy="1022.8" r="9.10" fill="#6abd45" stroke="#ed1c24" stroke-width="3.80"/><ellipse cx="663.7" cy="1022.8" rx="3.00" ry="2.00" fill="#ed1c24"/>
<circle cx="670.4" cy="1021.3" r="9.10" fill="#6abd45" stroke="#ed1c24" stroke-width="3.80"/><ellipse cx="670.4" cy="1021.3" rx="3.00" ry="2.00" fill="#ed1c24"/>
<circle cx="677.1" cy="1021.9" r="9.10" fill="#6abd45" stroke="#ed1c24" stroke-width="3.80"/><ellipse cx="677.1" cy="1021.9" rx="3.00" ry="2.00" fill="#ed1c24"/>
<circle cx="683.8" cy="1020.0" r="9.10" fill="#6abd45" stroke="#ed1c24" stroke-width="3.80"/><ellipse cx="683.8" cy="1020.0" rx="3.00" ry="2.00" fill="#ed1c24"/>
<circle cx="690.5" cy="1022.0" r="9.10" fill="#6abd45" stroke="#ed1c24" stroke-width="3.80"/><ellipse cx="690.5" cy="1022.0" rx="3.00" ry="2.00" fill="#ed1c24"/>
<rect x="184.0" y="631.0" width="543.6" height="543.0" fill="none" stroke="#000" stroke-width="5" stroke-linejoin="round"/>
<line x1="184.0" y1="1135.0" x2="199.5" y2="1135.0" stroke="#000" stroke-width="5" stroke-linecap="round"/>
<line x1="184.0" y1="1096.2" x2="193.0" y2="1096.2" stroke="#000" stroke-width="5" stroke-linecap="round"/>
<line x1="184.0" y1="1057.4" x2="199.5" y2="1057.4" stroke="#000" stroke-width="5" stroke-linecap="round"/>
<line x1="184.0" y1="1018.6" x2="193.0" y2="1018.6" stroke="#000" stroke-width="5" stroke-linecap="round"/>
<line x1="184.0" y1="979.8" x2="199.5" y2="979.8" stroke="#000" stroke-width="5" stroke-linecap="round"/>
<line x1="184.0" y1="941.0" x2="193.0" y2="941.0" stroke="#000" stroke-width="5" stroke-linecap="round"/>
<line x1="184.0" y1="902.2" x2="199.5" y2="902.2" stroke="#000" stroke-width="5" stroke-linecap="round"/>
<line x1="184.0" y1="863.4" x2="193.0" y2="863.4" stroke="#000" stroke-width="5" stroke-linecap="round"/>
<line x1="184.0" y1="824.6" x2="199.5" y2="824.6" stroke="#000" stroke-width="5" stroke-linecap="round"/>
<line x1="184.0" y1="785.8" x2="193.0" y2="785.8" stroke="#000" stroke-width="5" stroke-linecap="round"/>
<line x1="184.0" y1="747.0" x2="199.5" y2="747.0" stroke="#000" stroke-width="5" stroke-linecap="round"/>
<line x1="184.0" y1="708.2" x2="193.0" y2="708.2" stroke="#000" stroke-width="5" stroke-linecap="round"/>
<line x1="184.0" y1="669.4" x2="199.5" y2="669.4" stroke="#000" stroke-width="5" stroke-linecap="round"/>
<line x1="214.4" y1="1174.0" x2="214.4" y2="1158.5" stroke="#000" stroke-width="5" stroke-linecap="round"/>
<line x1="274.8" y1="1174.0" x2="274.8" y2="1165.0" stroke="#000" stroke-width="5" stroke-linecap="round"/>
<line x1="335.1" y1="1174.0" x2="335.1" y2="1158.5" stroke="#000" stroke-width="5" stroke-linecap="round"/>
<line x1="395.5" y1="1174.0" x2="395.5" y2="1165.0" stroke="#000" stroke-width="5" stroke-linecap="round"/>
<line x1="455.8" y1="1174.0" x2="455.8" y2="1158.5" stroke="#000" stroke-width="5" stroke-linecap="round"/>
<line x1="516.1" y1="1174.0" x2="516.1" y2="1165.0" stroke="#000" stroke-width="5" stroke-linecap="round"/>
<line x1="576.5" y1="1174.0" x2="576.5" y2="1158.5" stroke="#000" stroke-width="5" stroke-linecap="round"/>
<line x1="636.9" y1="1174.0" x2="636.9" y2="1165.0" stroke="#000" stroke-width="5" stroke-linecap="round"/>
<line x1="697.2" y1="1174.0" x2="697.2" y2="1158.5" stroke="#000" stroke-width="5" stroke-linecap="round"/>
<g transform="translate(170.00,1146.90) scale(0.975,1.045)" ><text x="0" y="0" text-anchor="end" class="tl">-0.&#8199;5</text><path d="M745,0 L565,0 L565,1110 Q500,1050 400,990 Q300,930 222,900 L222,1075 Q370,1145 480,1245 Q590,1345 635,1409 L745,1409 Z" transform="translate(-47.27,0) scale(0.02075,-0.02075)"/></g>
<g transform="translate(170.00,1069.30) scale(0.975,1.045)" ><text x="0" y="0" text-anchor="end" class="tl">-0.&#8199;0</text><path d="M745,0 L565,0 L565,1110 Q500,1050 400,990 Q300,930 222,900 L222,1075 Q370,1145 480,1245 Q590,1345 635,1409 L745,1409 Z" transform="translate(-47.27,0) scale(0.02075,-0.02075)"/></g>
<g transform="translate(170.00,991.70) scale(0.975,1.045)" ><text x="0" y="0" text-anchor="end" class="tl">-0.05</text></g>
<g transform="translate(170.00,914.10) scale(0.975,1.045)" ><text x="0" y="0" text-anchor="end" class="tl">0.00</text></g>
<g transform="translate(170.00,836.50) scale(0.975,1.045)" ><text x="0" y="0" text-anchor="end" class="tl">0.05</text></g>
<g transform="translate(170.00,758.90) scale(0.975,1.045)" ><text x="0" y="0" text-anchor="end" class="tl">0.&#8199;0</text><path d="M745,0 L565,0 L565,1110 Q500,1050 400,990 Q300,930 222,900 L222,1075 Q370,1145 480,1245 Q590,1345 635,1409 L745,1409 Z" transform="translate(-47.27,0) scale(0.02075,-0.02075)"/></g>
<g transform="translate(170.00,681.30) scale(0.975,1.045)" ><text x="0" y="0" text-anchor="end" class="tl">0.&#8199;5</text><path d="M745,0 L565,0 L565,1110 Q500,1050 400,990 Q300,930 222,900 L222,1075 Q370,1145 480,1245 Q590,1345 635,1409 L745,1409 Z" transform="translate(-47.27,0) scale(0.02075,-0.02075)"/></g>
<g transform="translate(215.20,1221.60) scale(0.975,1.045)" ><text x="0" y="0" text-anchor="middle" class="tl">0</text></g>
<g transform="translate(335.90,1221.60) scale(0.975,1.045)" ><text x="0" y="0" text-anchor="middle" class="tl">90</text></g>
<g transform="translate(456.60,1221.60) scale(0.975,1.045)" ><text x="0" y="0" text-anchor="middle" class="tl">&#8199;80</text><path d="M745,0 L565,0 L565,1110 Q500,1050 400,990 Q300,930 222,900 L222,1075 Q370,1145 480,1245 Q590,1345 635,1409 L745,1409 Z" transform="translate(-35.45,0) scale(0.02075,-0.02075)"/></g>
<g transform="translate(577.30,1221.60) scale(0.975,1.045)" ><text x="0" y="0" text-anchor="middle" class="tl">270</text></g>
<g transform="translate(698.00,1221.60) scale(0.975,1.045)" ><text x="0" y="0" text-anchor="middle" class="tl">360</text></g>
<line x1="538.3" y1="658.3" x2="601.9" y2="658.3" stroke="#000" stroke-width="5.3"/>
<circle cx="570.1" cy="658.3" r="14.9" fill="url(#sphL)"/>
<circle cx="570.1" cy="704.9" r="12.33" fill="#6abd45" stroke="#ed1c24" stroke-width="5.15"/><ellipse cx="570.1" cy="704.9" rx="4.06" ry="2.71" fill="#ed1c24"/>
<g clip-path="url(#clipC)"><g transform="translate(607.40,667.50) scale(1,1)" ><text x="0" y="0" text-anchor="start" class="lg">&#8199;00 Oe</text><path d="M745,0 L565,0 L565,1110 Q500,1050 400,990 Q300,930 222,900 L222,1075 Q370,1145 480,1245 Q590,1345 635,1409 L745,1409 Z" transform="translate(0.00,0) scale(0.01855,-0.01855)"/></g></g>
<text x="606.7" y="713.6" class="lg">0 Oe</text>
<polyline points="984.3,901.6 991.0,867.1 997.7,830.7 1004.4,797.1 1011.1,768.7 1017.8,742.2 1024.5,721.9 1031.2,704.2 1037.9,696.6 1044.6,692.4 1051.3,695.5 1058.0,706.3 1064.7,724.7 1071.4,747.2 1078.1,775.2 1084.8,806.4 1091.5,844.2 1098.2,881.9 1104.8,921.0 1111.5,960.7 1118.2,997.3 1124.9,1031.0 1131.6,1061.9 1138.3,1087.0 1145.0,1106.0 1151.7,1116.8 1158.4,1125.4 1165.1,1129.7 1171.8,1123.4 1178.5,1109.2 1185.2,1092.0 1191.9,1068.4 1198.6,1040.3 1205.3,1009.3 1212.0,973.6 1218.7,938.1 1225.4,901.4 1232.1,864.5 1238.8,830.0 1245.5,794.6 1252.2,766.6 1258.9,739.7 1265.6,718.6 1272.3,702.0 1279.0,692.4 1285.7,688.0 1292.4,691.1 1299.1,700.9 1305.8,716.0 1312.5,740.8 1319.2,767.6 1325.9,798.8 1332.6,834.4 1339.3,875.4 1345.9,914.0 1352.6,953.4 1359.3,991.6 1366.0,1022.8 1372.7,1057.4 1379.4,1083.5 1386.1,1104.7 1392.8,1117.5 1399.5,1127.9 1406.2,1128.9 1412.9,1123.2 1419.6,1110.5 1426.3,1094.3 1433.0,1069.0 1439.7,1043.6 1446.4,1012.4 1453.1,980.1 1459.8,944.3 1466.5,907.3" fill="none" stroke="#000" stroke-width="5" stroke-dasharray="9 5"/>
<circle cx="984.3" cy="901.6" r="11" fill="url(#sph)"/>
<circle cx="991.0" cy="867.1" r="11" fill="url(#sph)"/>
<circle cx="997.7" cy="830.7" r="11" fill="url(#sph)"/>
<circle cx="1004.4" cy="797.1" r="11" fill="url(#sph)"/>
<circle cx="1011.1" cy="768.7" r="11" fill="url(#sph)"/>
<circle cx="1017.8" cy="742.2" r="11" fill="url(#sph)"/>
<circle cx="1024.5" cy="721.9" r="11" fill="url(#sph)"/>
<circle cx="1031.2" cy="704.2" r="11" fill="url(#sph)"/>
<circle cx="1037.9" cy="696.6" r="11" fill="url(#sph)"/>
<circle cx="1044.6" cy="692.4" r="11" fill="url(#sph)"/>
<circle cx="1051.3" cy="695.5" r="11" fill="url(#sph)"/>
<circle cx="1058.0" cy="706.3" r="11" fill="url(#sph)"/>
<circle cx="1064.7" cy="724.7" r="11" fill="url(#sph)"/>
<circle cx="1071.4" cy="747.2" r="11" fill="url(#sph)"/>
<circle cx="1078.1" cy="775.2" r="11" fill="url(#sph)"/>
<circle cx="1084.8" cy="806.4" r="11" fill="url(#sph)"/>
<circle cx="1091.5" cy="844.2" r="11" fill="url(#sph)"/>
<circle cx="1098.2" cy="881.9" r="11" fill="url(#sph)"/>
<circle cx="1104.8" cy="921.0" r="11" fill="url(#sph)"/>
<circle cx="1111.5" cy="960.7" r="11" fill="url(#sph)"/>
<circle cx="1118.2" cy="997.3" r="11" fill="url(#sph)"/>
<circle cx="1124.9" cy="1031.0" r="11" fill="url(#sph)"/>
<circle cx="1131.6" cy="1061.9" r="11" fill="url(#sph)"/>
<circle cx="1138.3" cy="1087.0" r="11" fill="url(#sph)"/>
<circle cx="1145.0" cy="1106.0" r="11" fill="url(#sph)"/>
<circle cx="1151.7" cy="1116.8" r="11" fill="url(#sph)"/>
<circle cx="1158.4" cy="1125.4" r="11" fill="url(#sph)"/>
<circle cx="1165.1" cy="1129.7" r="11" fill="url(#sph)"/>
<circle cx="1171.8" cy="1123.4" r="11" fill="url(#sph)"/>
<circle cx="1178.5" cy="1109.2" r="11" fill="url(#sph)"/>
<circle cx="1185.2" cy="1092.0" r="11" fill="url(#sph)"/>
<circle cx="1191.9" cy="1068.4" r="11" fill="url(#sph)"/>
<circle cx="1198.6" cy="1040.3" r="11" fill="url(#sph)"/>
<circle cx="1205.3" cy="1009.3" r="11" fill="url(#sph)"/>
<circle cx="1212.0" cy="973.6" r="11" fill="url(#sph)"/>
<circle cx="1218.7" cy="938.1" r="11" fill="url(#sph)"/>
<circle cx="1225.4" cy="901.4" r="11" fill="url(#sph)"/>
<circle cx="1232.1" cy="864.5" r="11" fill="url(#sph)"/>
<circle cx="1238.8" cy="830.0" r="11" fill="url(#sph)"/>
<circle cx="1245.5" cy="794.6" r="11" fill="url(#sph)"/>
<circle cx="1252.2" cy="766.6" r="11" fill="url(#sph)"/>
<circle cx="1258.9" cy="739.7" r="11" fill="url(#sph)"/>
<circle cx="1265.6" cy="718.6" r="11" fill="url(#sph)"/>
<circle cx="1272.3" cy="702.0" r="11" fill="url(#sph)"/>
<circle cx="1279.0" cy="692.4" r="11" fill="url(#sph)"/>
<circle cx="1285.7" cy="688.0" r="11" fill="url(#sph)"/>
<circle cx="1292.4" cy="691.1" r="11" fill="url(#sph)"/>
<circle cx="1299.1" cy="700.9" r="11" fill="url(#sph)"/>
<circle cx="1305.8" cy="716.0" r="11" fill="url(#sph)"/>
<circle cx="1312.5" cy="740.8" r="11" fill="url(#sph)"/>
<circle cx="1319.2" cy="767.6" r="11" fill="url(#sph)"/>
<circle cx="1325.9" cy="798.8" r="11" fill="url(#sph)"/>
<circle cx="1332.6" cy="834.4" r="11" fill="url(#sph)"/>
<circle cx="1339.3" cy="875.4" r="11" fill="url(#sph)"/>
<circle cx="1345.9" cy="914.0" r="11" fill="url(#sph)"/>
<circle cx="1352.6" cy="953.4" r="11" fill="url(#sph)"/>
<circle cx="1359.3" cy="991.6" r="11" fill="url(#sph)"/>
<circle cx="1366.0" cy="1022.8" r="11" fill="url(#sph)"/>
<circle cx="1372.7" cy="1057.4" r="11" fill="url(#sph)"/>
<circle cx="1379.4" cy="1083.5" r="11" fill="url(#sph)"/>
<circle cx="1386.1" cy="1104.7" r="11" fill="url(#sph)"/>
<circle cx="1392.8" cy="1117.5" r="11" fill="url(#sph)"/>
<circle cx="1399.5" cy="1127.9" r="11" fill="url(#sph)"/>
<circle cx="1406.2" cy="1128.9" r="11" fill="url(#sph)"/>
<circle cx="1412.9" cy="1123.2" r="11" fill="url(#sph)"/>
<circle cx="1419.6" cy="1110.5" r="11" fill="url(#sph)"/>
<circle cx="1426.3" cy="1094.3" r="11" fill="url(#sph)"/>
<circle cx="1433.0" cy="1069.0" r="11" fill="url(#sph)"/>
<circle cx="1439.7" cy="1043.6" r="11" fill="url(#sph)"/>
<circle cx="1446.4" cy="1012.4" r="11" fill="url(#sph)"/>
<circle cx="1453.1" cy="980.1" r="11" fill="url(#sph)"/>
<circle cx="1459.8" cy="944.3" r="11" fill="url(#sph)"/>
<circle cx="1466.5" cy="907.3" r="11" fill="url(#sph)"/>
<circle cx="984.3" cy="933.7" r="9.10" fill="#6abd45" stroke="#ed1c24" stroke-width="3.80"/><ellipse cx="984.3" cy="933.7" rx="3.00" ry="2.00" fill="#ed1c24"/>
<circle cx="991.0" cy="934.8" r="9.10" fill="#6abd45" stroke="#ed1c24" stroke-width="3.80"/><ellipse cx="991.0" cy="934.8" rx="3.00" ry="2.00" fill="#ed1c24"/>
<circle cx="997.7" cy="934.3" r="9.10" fill="#6abd45" stroke="#ed1c24" stroke-width="3.80"/><ellipse cx="997.7" cy="934.3" rx="3.00" ry="2.00" fill="#ed1c24"/>
<circle cx="1004.4" cy="932.6" r="9.10" fill="#6abd45" stroke="#ed1c24" stroke-width="3.80"/><ellipse cx="1004.4" cy="932.6" rx="3.00" ry="2.00" fill="#ed1c24"/>
<circle cx="1011.1" cy="932.9" r="9.10" fill="#6abd45" stroke="#ed1c24" stroke-width="3.80"/><ellipse cx="1011.1" cy="932.9" rx="3.00" ry="2.00" fill="#ed1c24"/>
<circle cx="1017.8" cy="822.0" r="9.10" fill="#6abd45" stroke="#ed1c24" stroke-width="3.80"/><ellipse cx="1017.8" cy="822.0" rx="3.00" ry="2.00" fill="#ed1c24"/>
<circle cx="1024.5" cy="820.1" r="9.10" fill="#6abd45" stroke="#ed1c24" stroke-width="3.80"/><ellipse cx="1024.5" cy="820.1" rx="3.00" ry="2.00" fill="#ed1c24"/>
<circle cx="1031.2" cy="821.7" r="9.10" fill="#6abd45" stroke="#ed1c24" stroke-width="3.80"/><ellipse cx="1031.2" cy="821.7" rx="3.00" ry="2.00" fill="#ed1c24"/>
<circle cx="1037.9" cy="820.9" r="9.10" fill="#6abd45" stroke="#ed1c24" stroke-width="3.80"/><ellipse cx="1037.9" cy="820.9" rx="3.00" ry="2.00" fill="#ed1c24"/>
<circle cx="1044.6" cy="820.9" r="9.10" fill="#6abd45" stroke="#ed1c24" stroke-width="3.80"/><ellipse cx="1044.6" cy="820.9" rx="3.00" ry="2.00" fill="#ed1c24"/>
<circle cx="1051.3" cy="820.9" r="9.10" fill="#6abd45" stroke="#ed1c24" stroke-width="3.80"/><ellipse cx="1051.3" cy="820.9" rx="3.00" ry="2.00" fill="#ed1c24"/>
<circle cx="1058.0" cy="823.4" r="9.10" fill="#6abd45" stroke="#ed1c24" stroke-width="3.80"/><ellipse cx="1058.0" cy="823.4" rx="3.00" ry="2.00" fill="#ed1c24"/>
<circle cx="1064.7" cy="821.5" r="9.10" fill="#6abd45" stroke="#ed1c24" stroke-width="3.80"/><ellipse cx="1064.7" cy="821.5" rx="3.00" ry="2.00" fill="#ed1c24"/>
<circle cx="1071.4" cy="822.0" r="9.10" fill="#6abd45" stroke="#ed1c24" stroke-width="3.80"/><ellipse cx="1071.4" cy="822.0" rx="3.00" ry="2.00" fill="#ed1c24"/>
<circle cx="1078.1" cy="822.7" r="9.10" fill="#6abd45" stroke="#ed1c24" stroke-width="3.80"/><ellipse cx="1078.1" cy="822.7" rx="3.00" ry="2.00" fill="#ed1c24"/>
<circle cx="1084.8" cy="824.4" r="9.10" fill="#6abd45" stroke="#ed1c24" stroke-width="3.80"/><ellipse cx="1084.8" cy="824.4" rx="3.00" ry="2.00" fill="#ed1c24"/>
<circle cx="1091.5" cy="822.0" r="9.10" fill="#6abd45" stroke="#ed1c24" stroke-width="3.80"/><ellipse cx="1091.5" cy="822.0" rx="3.00" ry="2.00" fill="#ed1c24"/>
<circle cx="1098.2" cy="823.3" r="9.10" fill="#6abd45" stroke="#ed1c24" stroke-width="3.80"/><ellipse cx="1098.2" cy="823.3" rx="3.00" ry="2.00" fill="#ed1c24"/>
<circle cx="1104.8" cy="823.8" r="9.10" fill="#6abd45" stroke="#ed1c24" stroke-width="3.80"/><ellipse cx="1104.8" cy="823.8" rx="3.00" ry="2.00" fill="#ed1c24"/>
<circle cx="1111.5" cy="1039.2" r="9.10" fill="#6abd45" stroke="#ed1c24" stroke-width="3.80"/><ellipse cx="1111.5" cy="1039.2" rx="3.00" ry="2.00" fill="#ed1c24"/>
<circle cx="1118.2" cy="1039.0" r="9.10" fill="#6abd45" stroke="#ed1c24" stroke-width="3.80"/><ellipse cx="1118.2" cy="1039.0" rx="3.00" ry="2.00" fill="#ed1c24"/>
<circle cx="1124.9" cy="1039.2" r="9.10" fill="#6abd45" stroke="#ed1c24" stroke-width="3.80"/><ellipse cx="1124.9" cy="1039.2" rx="3.00" ry="2.00" fill="#ed1c24"/>
<circle cx="1131.6" cy="1037.3" r="9.10" fill="#6abd45" stroke="#ed1c24" stroke-width="3.80"/><ellipse cx="1131.6" cy="1037.3" rx="3.00" ry="2.00" fill="#ed1c24"/>
<circle cx="1138.3" cy="1037.7" r="9.10" fill="#6abd45" stroke="#ed1c24" stroke-width="3.80"/><ellipse cx="1138.3" cy="1037.7" rx="3.00" ry="2.00" fill="#ed1c24"/>
<circle cx="1145.0" cy="1037.5" r="9.10" fill="#6abd45" stroke="#ed1c24" stroke-width="3.80"/><ellipse cx="1145.0" cy="1037.5" rx="3.00" ry="2.00" fill="#ed1c24"/>
<circle cx="1151.7" cy="1039.2" r="9.10" fill="#6abd45" stroke="#ed1c24" stroke-width="3.80"/><ellipse cx="1151.7" cy="1039.2" rx="3.00" ry="2.00" fill="#ed1c24"/>
<circle cx="1158.4" cy="1039.5" r="9.10" fill="#6abd45" stroke="#ed1c24" stroke-width="3.80"/><ellipse cx="1158.4" cy="1039.5" rx="3.00" ry="2.00" fill="#ed1c24"/>
<circle cx="1165.1" cy="1036.9" r="9.10" fill="#6abd45" stroke="#ed1c24" stroke-width="3.80"/><ellipse cx="1165.1" cy="1036.9" rx="3.00" ry="2.00" fill="#ed1c24"/>
<circle cx="1171.8" cy="1037.0" r="9.10" fill="#6abd45" stroke="#ed1c24" stroke-width="3.80"/><ellipse cx="1171.8" cy="1037.0" rx="3.00" ry="2.00" fill="#ed1c24"/>
<circle cx="1178.5" cy="1037.1" r="9.10" fill="#6abd45" stroke="#ed1c24" stroke-width="3.80"/><ellipse cx="1178.5" cy="1037.1" rx="3.00" ry="2.00" fill="#ed1c24"/>
<circle cx="1185.2" cy="925.4" r="9.10" fill="#6abd45" stroke="#ed1c24" stroke-width="3.80"/><ellipse cx="1185.2" cy="925.4" rx="3.00" ry="2.00" fill="#ed1c24"/>
<circle cx="1191.9" cy="926.7" r="9.10" fill="#6abd45" stroke="#ed1c24" stroke-width="3.80"/><ellipse cx="1191.9" cy="926.7" rx="3.00" ry="2.00" fill="#ed1c24"/>
<circle cx="1198.6" cy="927.5" r="9.10" fill="#6abd45" stroke="#ed1c24" stroke-width="3.80"/><ellipse cx="1198.6" cy="927.5" rx="3.00" ry="2.00" fill="#ed1c24"/>
<circle cx="1205.3" cy="927.0" r="9.10" fill="#6abd45" stroke="#ed1c24" stroke-width="3.80"/><ellipse cx="1205.3" cy="927.0" rx="3.00" ry="2.00" fill="#ed1c24"/>
<circle cx="1212.0" cy="926.6" r="9.10" fill="#6abd45" stroke="#ed1c24" stroke-width="3.80"/><ellipse cx="1212.0" cy="926.6" rx="3.00" ry="2.00" fill="#ed1c24"/>
<circle cx="1218.7" cy="928.5" r="9.10" fill="#6abd45" stroke="#ed1c24" stroke-width="3.80"/><ellipse cx="1218.7" cy="928.5" rx="3.00" ry="2.00" fill="#ed1c24"/>
<circle cx="1225.4" cy="928.8" r="9.10" fill="#6abd45" stroke="#ed1c24" stroke-width="3.80"/><ellipse cx="1225.4" cy="928.8" rx="3.00" ry="2.00" fill="#ed1c24"/>
<circle cx="1232.1" cy="929.9" r="9.10" fill="#6abd45" stroke="#ed1c24" stroke-width="3.80"/><ellipse cx="1232.1" cy="929.9" rx="3.00" ry="2.00" fill="#ed1c24"/>
<circle cx="1238.8" cy="931.7" r="9.10" fill="#6abd45" stroke="#ed1c24" stroke-width="3.80"/><ellipse cx="1238.8" cy="931.7" rx="3.00" ry="2.00" fill="#ed1c24"/>
<circle cx="1245.5" cy="931.3" r="9.10" fill="#6abd45" stroke="#ed1c24" stroke-width="3.80"/><ellipse cx="1245.5" cy="931.3" rx="3.00" ry="2.00" fill="#ed1c24"/>
<circle cx="1252.2" cy="931.2" r="9.10" fill="#6abd45" stroke="#ed1c24" stroke-width="3.80"/><ellipse cx="1252.2" cy="931.2" rx="3.00" ry="2.00" fill="#ed1c24"/>
<circle cx="1258.9" cy="932.1" r="9.10" fill="#6abd45" stroke="#ed1c24" stroke-width="3.80"/><ellipse cx="1258.9" cy="932.1" rx="3.00" ry="2.00" fill="#ed1c24"/>
<circle cx="1265.6" cy="815.4" r="9.10" fill="#6abd45" stroke="#ed1c24" stroke-width="3.80"/><ellipse cx="1265.6" cy="815.4" rx="3.00" ry="2.00" fill="#ed1c24"/>
<circle cx="1272.3" cy="813.9" r="9.10" fill="#6abd45" stroke="#ed1c24" stroke-width="3.80"/><ellipse cx="1272.3" cy="813.9" rx="3.00" ry="2.00" fill="#ed1c24"/>
<circle cx="1279.0" cy="817.0" r="9.10" fill="#6abd45" stroke="#ed1c24" stroke-width="3.80"/><ellipse cx="1279.0" cy="817.0" rx="3.00" ry="2.00" fill="#ed1c24"/>
<circle cx="1285.7" cy="817.1" r="9.10" fill="#6abd45" stroke="#ed1c24" stroke-width="3.80"/><ellipse cx="1285.7" cy="817.1" rx="3.00" ry="2.00" fill="#ed1c24"/>
<circle cx="1292.4" cy="817.9" r="9.10" fill="#6abd45" stroke="#ed1c24" stroke-width="3.80"/><ellipse cx="1292.4" cy="817.9" rx="3.00" ry="2.00" fill="#ed1c24"/>
<circle cx="1299.1" cy="818.1" r="9.10" fill="#6abd45" stroke="#ed1c24" stroke-width="3.80"/><ellipse cx="1299.1" cy="818.1" rx="3.00" ry="2.00" fill="#ed1c24"/>
<circle cx="1305.8" cy="817.3" r="9.10" fill="#6abd45" stroke="#ed1c24" stroke-width="3.80"/><ellipse cx="1305.8" cy="817.3" rx="3.00" ry="2.00" fill="#ed1c24"/>
<circle cx="1312.5" cy="817.8" r="9.10" fill="#6abd45" stroke="#ed1c24" stroke-width="3.80"/><ellipse cx="1312.5" cy="817.8" rx="3.00" ry="2.00" fill="#ed1c24"/>
<circle cx="1319.2" cy="817.3" r="9.10" fill="#6abd45" stroke="#ed1c24" stroke-width="3.80"/><ellipse cx="1319.2" cy="817.3" rx="3.00" ry="2.00" fill="#ed1c24"/>
<circle cx="1325.9" cy="819.4" r="9.10" fill="#6abd45" stroke="#ed1c24" stroke-width="3.80"/><ellipse cx="1325.9" cy="819.4" rx="3.00" ry="2.00" fill="#ed1c24"/>
<circle cx="1332.6" cy="818.1" r="9.10" fill="#6abd45" stroke="#ed1c24" stroke-width="3.80"/><ellipse cx="1332.6" cy="818.1" rx="3.00" ry="2.00" fill="#ed1c24"/>
<circle cx="1339.3" cy="818.6" r="9.10" fill="#6abd45" stroke="#ed1c24" stroke-width="3.80"/><ellipse cx="1339.3" cy="818.6" rx="3.00" ry="2.00" fill="#ed1c24"/>
<circle cx="1345.9" cy="819.5" r="9.10" fill="#6abd45" stroke="#ed1c24" stroke-width="3.80"/><ellipse cx="1345.9" cy="819.5" rx="3.00" ry="2.00" fill="#ed1c24"/>
<circle cx="1352.6" cy="1036.8" r="9.10" fill="#6abd45" stroke="#ed1c24" stroke-width="3.80"/><ellipse cx="1352.6" cy="1036.8" rx="3.00" ry="2.00" fill="#ed1c24"/>
<circle cx="1359.3" cy="1037.3" r="9.10" fill="#6abd45" stroke="#ed1c24" stroke-width="3.80"/><ellipse cx="1359.3" cy="1037.3" rx="3.00" ry="2.00" fill="#ed1c24"/>
<circle cx="1366.0" cy="1036.4" r="9.10" fill="#6abd45" stroke="#ed1c24" stroke-width="3.80"/><ellipse cx="1366.0" cy="1036.4" rx="3.00" ry="2.00" fill="#ed1c24"/>
<circle cx="1372.7" cy="1036.2" r="9.10" fill="#6abd45" stroke="#ed1c24" stroke-width="3.80"/><ellipse cx="1372.7" cy="1036.2" rx="3.00" ry="2.00" fill="#ed1c24"/>
<circle cx="1379.4" cy="1036.7" r="9.10" fill="#6abd45" stroke="#ed1c24" stroke-width="3.80"/><ellipse cx="1379.4" cy="1036.7" rx="3.00" ry="2.00" fill="#ed1c24"/>
<circle cx="1386.1" cy="1036.6" r="9.10" fill="#6abd45" stroke="#ed1c24" stroke-width="3.80"/><ellipse cx="1386.1" cy="1036.6" rx="3.00" ry="2.00" fill="#ed1c24"/>
<circle cx="1392.8" cy="1037.4" r="9.10" fill="#6abd45" stroke="#ed1c24" stroke-width="3.80"/><ellipse cx="1392.8" cy="1037.4" rx="3.00" ry="2.00" fill="#ed1c24"/>
<circle cx="1399.5" cy="1036.3" r="9.10" fill="#6abd45" stroke="#ed1c24" stroke-width="3.80"/><ellipse cx="1399.5" cy="1036.3" rx="3.00" ry="2.00" fill="#ed1c24"/>
<circle cx="1406.2" cy="1039.0" r="9.10" fill="#6abd45" stroke="#ed1c24" stroke-width="3.80"/><ellipse cx="1406.2" cy="1039.0" rx="3.00" ry="2.00" fill="#ed1c24"/>
<circle cx="1412.9" cy="1038.2" r="9.10" fill="#6abd45" stroke="#ed1c24" stroke-width="3.80"/><ellipse cx="1412.9" cy="1038.2" rx="3.00" ry="2.00" fill="#ed1c24"/>
<circle cx="1419.6" cy="1036.7" r="9.10" fill="#6abd45" stroke="#ed1c24" stroke-width="3.80"/><ellipse cx="1419.6" cy="1036.7" rx="3.00" ry="2.00" fill="#ed1c24"/>
<circle cx="1426.3" cy="923.9" r="9.10" fill="#6abd45" stroke="#ed1c24" stroke-width="3.80"/><ellipse cx="1426.3" cy="923.9" rx="3.00" ry="2.00" fill="#ed1c24"/>
<circle cx="1433.0" cy="925.4" r="9.10" fill="#6abd45" stroke="#ed1c24" stroke-width="3.80"/><ellipse cx="1433.0" cy="925.4" rx="3.00" ry="2.00" fill="#ed1c24"/>
<circle cx="1439.7" cy="926.6" r="9.10" fill="#6abd45" stroke="#ed1c24" stroke-width="3.80"/><ellipse cx="1439.7" cy="926.6" rx="3.00" ry="2.00" fill="#ed1c24"/>
<circle cx="1446.4" cy="927.0" r="9.10" fill="#6abd45" stroke="#ed1c24" stroke-width="3.80"/><ellipse cx="1446.4" cy="927.0" rx="3.00" ry="2.00" fill="#ed1c24"/>
<circle cx="1453.1" cy="930.5" r="9.10" fill="#6abd45" stroke="#ed1c24" stroke-width="3.80"/><ellipse cx="1453.1" cy="930.5" rx="3.00" ry="2.00" fill="#ed1c24"/>
<circle cx="1459.8" cy="932.1" r="9.10" fill="#6abd45" stroke="#ed1c24" stroke-width="3.80"/><ellipse cx="1459.8" cy="932.1" rx="3.00" ry="2.00" fill="#ed1c24"/>
<circle cx="1466.5" cy="931.6" r="9.10" fill="#6abd45" stroke="#ed1c24" stroke-width="3.80"/><ellipse cx="1466.5" cy="931.6" rx="3.00" ry="2.00" fill="#ed1c24"/>
<rect x="953.6" y="631.0" width="543.6" height="543.0" fill="none" stroke="#000" stroke-width="5" stroke-linejoin="round"/>
<line x1="953.6" y1="1135.0" x2="969.1" y2="1135.0" stroke="#000" stroke-width="5" stroke-linecap="round"/>
<line x1="953.6" y1="1096.2" x2="962.6" y2="1096.2" stroke="#000" stroke-width="5" stroke-linecap="round"/>
<line x1="953.6" y1="1057.4" x2="969.1" y2="1057.4" stroke="#000" stroke-width="5" stroke-linecap="round"/>
<line x1="953.6" y1="1018.6" x2="962.6" y2="1018.6" stroke="#000" stroke-width="5" stroke-linecap="round"/>
<line x1="953.6" y1="979.8" x2="969.1" y2="979.8" stroke="#000" stroke-width="5" stroke-linecap="round"/>
<line x1="953.6" y1="941.0" x2="962.6" y2="941.0" stroke="#000" stroke-width="5" stroke-linecap="round"/>
<line x1="953.6" y1="902.2" x2="969.1" y2="902.2" stroke="#000" stroke-width="5" stroke-linecap="round"/>
<line x1="953.6" y1="863.4" x2="962.6" y2="863.4" stroke="#000" stroke-width="5" stroke-linecap="round"/>
<line x1="953.6" y1="824.6" x2="969.1" y2="824.6" stroke="#000" stroke-width="5" stroke-linecap="round"/>
<line x1="953.6" y1="785.8" x2="962.6" y2="785.8" stroke="#000" stroke-width="5" stroke-linecap="round"/>
<line x1="953.6" y1="747.0" x2="969.1" y2="747.0" stroke="#000" stroke-width="5" stroke-linecap="round"/>
<line x1="953.6" y1="708.2" x2="962.6" y2="708.2" stroke="#000" stroke-width="5" stroke-linecap="round"/>
<line x1="953.6" y1="669.4" x2="969.1" y2="669.4" stroke="#000" stroke-width="5" stroke-linecap="round"/>
<line x1="984.3" y1="1174.0" x2="984.3" y2="1158.5" stroke="#000" stroke-width="5" stroke-linecap="round"/>
<line x1="1044.6" y1="1174.0" x2="1044.6" y2="1165.0" stroke="#000" stroke-width="5" stroke-linecap="round"/>
<line x1="1104.8" y1="1174.0" x2="1104.8" y2="1158.5" stroke="#000" stroke-width="5" stroke-linecap="round"/>
<line x1="1165.1" y1="1174.0" x2="1165.1" y2="1165.0" stroke="#000" stroke-width="5" stroke-linecap="round"/>
<line x1="1225.4" y1="1174.0" x2="1225.4" y2="1158.5" stroke="#000" stroke-width="5" stroke-linecap="round"/>
<line x1="1285.7" y1="1174.0" x2="1285.7" y2="1165.0" stroke="#000" stroke-width="5" stroke-linecap="round"/>
<line x1="1345.9" y1="1174.0" x2="1345.9" y2="1158.5" stroke="#000" stroke-width="5" stroke-linecap="round"/>
<line x1="1406.2" y1="1174.0" x2="1406.2" y2="1165.0" stroke="#000" stroke-width="5" stroke-linecap="round"/>
<line x1="1466.5" y1="1174.0" x2="1466.5" y2="1158.5" stroke="#000" stroke-width="5" stroke-linecap="round"/>
<g transform="translate(939.60,1146.90) scale(0.975,1.045)" ><text x="0" y="0" text-anchor="end" class="tl">-0.&#8199;5</text><path d="M745,0 L565,0 L565,1110 Q500,1050 400,990 Q300,930 222,900 L222,1075 Q370,1145 480,1245 Q590,1345 635,1409 L745,1409 Z" transform="translate(-47.27,0) scale(0.02075,-0.02075)"/></g>
<g transform="translate(939.60,1069.30) scale(0.975,1.045)" ><text x="0" y="0" text-anchor="end" class="tl">-0.&#8199;0</text><path d="M745,0 L565,0 L565,1110 Q500,1050 400,990 Q300,930 222,900 L222,1075 Q370,1145 480,1245 Q590,1345 635,1409 L745,1409 Z" transform="translate(-47.27,0) scale(0.02075,-0.02075)"/></g>
<g transform="translate(939.60,991.70) scale(0.975,1.045)" ><text x="0" y="0" text-anchor="end" class="tl">-0.05</text></g>
<g transform="translate(939.60,914.10) scale(0.975,1.045)" ><text x="0" y="0" text-anchor="end" class="tl">0.00</text></g>
<g transform="translate(939.60,836.50) scale(0.975,1.045)" ><text x="0" y="0" text-anchor="end" class="tl">0.05</text></g>
<g transform="translate(939.60,758.90) scale(0.975,1.045)" ><text x="0" y="0" text-anchor="end" class="tl">0.&#8199;0</text><path d="M745,0 L565,0 L565,1110 Q500,1050 400,990 Q300,930 222,900 L222,1075 Q370,1145 480,1245 Q590,1345 635,1409 L745,1409 Z" transform="translate(-47.27,0) scale(0.02075,-0.02075)"/></g>
<g transform="translate(939.60,681.30) scale(0.975,1.045)" ><text x="0" y="0" text-anchor="end" class="tl">0.&#8199;5</text><path d="M745,0 L565,0 L565,1110 Q500,1050 400,990 Q300,930 222,900 L222,1075 Q370,1145 480,1245 Q590,1345 635,1409 L745,1409 Z" transform="translate(-47.27,0) scale(0.02075,-0.02075)"/></g>
<g transform="translate(985.10,1221.60) scale(0.975,1.045)" ><text x="0" y="0" text-anchor="middle" class="tl">0</text></g>
<g transform="translate(1105.65,1221.60) scale(0.975,1.045)" ><text x="0" y="0" text-anchor="middle" class="tl">90</text></g>
<g transform="translate(1226.20,1221.60) scale(0.975,1.045)" ><text x="0" y="0" text-anchor="middle" class="tl">&#8199;80</text><path d="M745,0 L565,0 L565,1110 Q500,1050 400,990 Q300,930 222,900 L222,1075 Q370,1145 480,1245 Q590,1345 635,1409 L745,1409 Z" transform="translate(-35.45,0) scale(0.02075,-0.02075)"/></g>
<g transform="translate(1346.75,1221.60) scale(0.975,1.045)" ><text x="0" y="0" text-anchor="middle" class="tl">270</text></g>
<g transform="translate(1467.30,1221.60) scale(0.975,1.045)" ><text x="0" y="0" text-anchor="middle" class="tl">360</text></g>
<line x1="1302.3" y1="655.2" x2="1365.9" y2="655.2" stroke="#000" stroke-width="5.3"/>
<circle cx="1334.1" cy="655.2" r="14.9" fill="url(#sphL)"/>
<circle cx="1334.1" cy="701.8" r="12.33" fill="#6abd45" stroke="#ed1c24" stroke-width="5.15"/><ellipse cx="1334.1" cy="701.8" rx="4.06" ry="2.71" fill="#ed1c24"/>
<g clip-path="url(#clipD)"><g transform="translate(1371.80,664.30) scale(1,1)" ><text x="0" y="0" text-anchor="start" class="lg">&#8199;00 Oe</text><path d="M745,0 L565,0 L565,1110 Q500,1050 400,990 Q300,930 222,900 L222,1075 Q370,1145 480,1245 Q590,1345 635,1409 L745,1409 Z" transform="translate(0.00,0) scale(0.01855,-0.01855)"/></g></g>
<text x="1370.8" y="710.8" class="lg">0 Oe</text>
<g transform="translate(40.6,1017) rotate(-90)"><text x="0" y="0" class="yt">R</text><text x="40.2" y="21.1" class="ys">PHE</text><text x="124.5" y="-0.5" class="yp">(</text><text x="139.1" y="0" class="yo">&#937;</text><text x="180.5" y="-0.5" class="yp">)</text></g>
<text transform="translate(363.4,1280.2) scale(1.3,1)" class="xa">&#945;</text>
<text x="415.8" y="1280.5" class="xt">(deg)</text>
<g transform="translate(818.7,1017) rotate(-90)"><text x="0" y="0" class="yt">R</text><text x="40.2" y="21.1" class="ys">PHE</text><text x="124.5" y="-0.5" class="yp">(</text><text x="139.1" y="0" class="yo">&#937;</text><text x="180.5" y="-0.5" class="yp">)</text></g>
<text transform="translate(1134.0,1287.7) scale(1.3,1)" class="xa">&#945;</text>
<text x="1186.4" y="1288.0" class="xt">(deg)</text>
</svg>
</body></html>
